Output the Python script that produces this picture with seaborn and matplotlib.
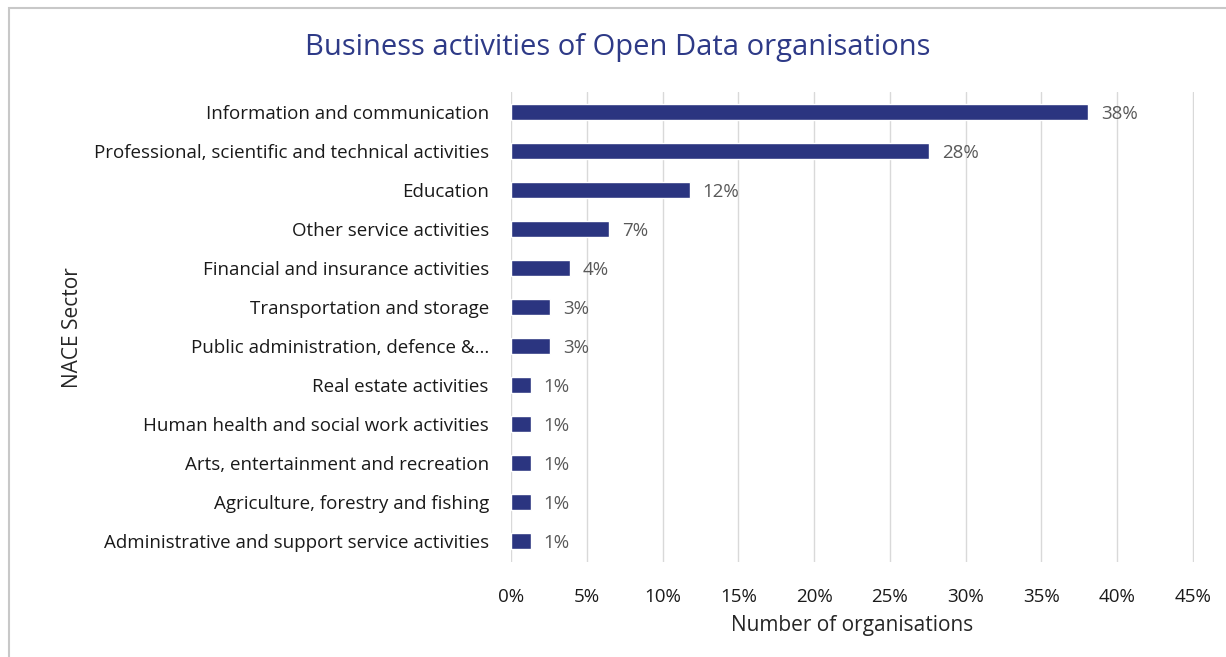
import matplotlib
matplotlib.use('Agg')
import matplotlib.pyplot as plt
import matplotlib.patches as mpatches
from matplotlib.ticker import PercentFormatter
import pandas as pd
import seaborn as sns

sectors = ['Information and communication',
           'Professional, scientific and technical activities',
           'Education',
           'Other service activities',
           'Financial and insurance activities',
           'Transportation and storage',
           'Public administration, defence &...',
           'Real estate activities',
           'Human health and social work activities',
           'Arts, entertainment and recreation',
           'Agriculture, forestry and fishing',
           'Administrative and support service activities']
share = [38.1, 27.6, 11.8, 6.5, 3.9, 2.6, 2.6, 1.3, 1.3, 1.3, 1.3, 1.3]
labels = ['38%', '28%', '12%', '7%', '4%', '3%', '3%', '1%', '1%', '1%', '1%', '1%']

df = pd.DataFrame({'Sector': sectors, 'Share': share})

sns.set_style('white')
plt.rcParams['font.family'] = ['Open Sans', 'DejaVu Sans']

bar_color = '#2B3580'
text_color = '#595959'

fig = plt.figure(figsize=(12.26, 6.57), dpi=100)
ax = fig.add_axes([511 / 1226, 1 - 562 / 657, (1194 - 511) / 1226, (562 - 92) / 657])

sns.barplot(data=df, x='Share', y='Sector', color=bar_color, width=0.4,
            saturation=1, ax=ax, orient='h')

lbls = ax.bar_label(ax.containers[0], labels=labels, padding=9, fontsize=13.5, color=text_color)
for t in lbls:
    t.set_va('center_baseline')

ax.set_xlim(0, 45.08)
ax.set_xticks(range(0, 46, 5))
ax.xaxis.set_major_formatter(PercentFormatter(decimals=0))
ax.set_ylim(11.54, -0.51)
ax.grid(axis='x', color='#D9D9D9', linewidth=1)
ax.set_axisbelow(True)
sns.despine(ax=ax, left=True, bottom=True)
ax.tick_params(axis='y', length=0, labelsize=13.5, colors='#1a1a1a', pad=16)
ax.tick_params(axis='x', length=0, labelsize=13.5, colors='#1a1a1a', pad=19)

ax.set_xlabel('Number of organisations', fontsize=15, color='#262626', labelpad=6)
ax.set_ylabel('')
fig.text(72 / 1226, 1 - 328 / 657, 'NACE Sector', rotation=90, fontsize=15,
         color='#262626', ha='center', va='center')

fig.text(618 / 1226, 1 - 48 / 657, 'Business activities of Open Data organisations',
         fontsize=21, color='#2E3A87', ha='center', va='center')

fig.patches.append(mpatches.Rectangle((9 / 1226, -0.05), 1.2, 1 - 8 / 657 + 0.05,
                                      transform=fig.transFigure, fill=False,
                                      edgecolor='#C8C8C8', linewidth=1.5))

fig.savefig('out.png', dpi=100)
